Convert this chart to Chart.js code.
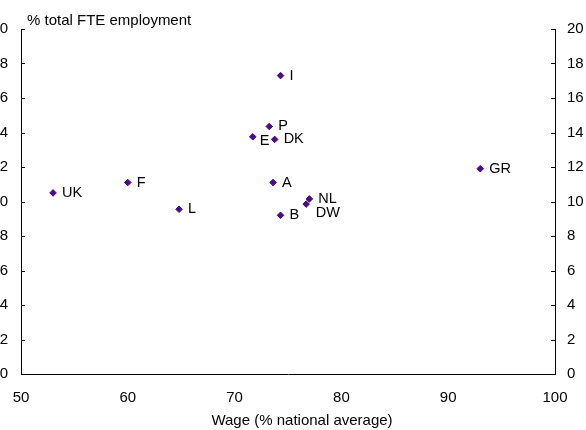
<!DOCTYPE html>
<html>
<head>
<meta charset="utf-8">
<script src="https://cdn.jsdelivr.net/npm/chart.js@4.4.1/dist/chart.umd.min.js"></script>
<style>
  html, body { margin: 0; padding: 0; background: #fff; }
  #wrap { position: relative; width: 586px; height: 430px; overflow: hidden; }
  #box { position: absolute; left: -14px; top: 0; width: 600px; height: 430px; }
</style>
</head>
<body>
<div id="wrap"><div id="box"><canvas id="c" width="600" height="430"></canvas></div></div>
<script>
// Country codes, relative wage and share of full-time-equivalent employment
const countries = ['UK', 'F', 'L', 'E', 'P', 'DK', 'A', 'I', 'B', 'DW', 'NL', 'GR'];
const wages     = [53.0, 60.0, 64.8, 71.7, 73.25, 73.75, 73.6, 74.3, 74.3, 76.7, 77.0, 93.0];
const shares    = [10.5, 11.1, 9.55, 13.75, 14.35, 13.6, 11.1, 17.3, 9.2, 9.85, 10.15, 11.9];

const xTicks = [50, 60, 70, 80, 90, 100];
const yTicks = [0, 2, 4, 6, 8, 10, 12, 14, 16, 18, 20];

const yTitle = '% total FTE employment';
const xTitle = 'Wage (% national average)';

const FONT = '"Liberation Sans", Arial, sans-serif';
const INK = '#000';
const MARK = '#4b0a86';

// Per-label nudges for crowded points (default is just right of the marker)
const labelNudge = { E: [7, 4.5], DW: [9.5, 8.5] };

const points = wages.map((w, i) => ({ x: w, y: shares[i] }));

const decorations = {
  id: 'decorations',
  afterDatasetsDraw(chart) {
    const ctx = chart.ctx;
    const area = chart.chartArea;
    const yl = chart.scales.y;
    ctx.save();
    // inward tick marks on both vertical axes
    ctx.strokeStyle = INK;
    ctx.lineWidth = 1;
    yTicks.forEach(v => {
      const py = Math.round(yl.getPixelForValue(v)) + 0.5;
      ctx.beginPath();
      ctx.moveTo(area.left, py); ctx.lineTo(area.left + 4, py);
      ctx.moveTo(area.right, py); ctx.lineTo(area.right - 4, py);
      ctx.stroke();
    });
    // point labels
    ctx.fillStyle = INK;
    ctx.font = '14.5px ' + FONT;
    ctx.textBaseline = 'middle';
    ctx.textAlign = 'left';
    const meta = chart.getDatasetMeta(0);
    meta.data.forEach((el, i) => {
      const name = countries[i];
      const n = labelNudge[name] || [9, 0];
      ctx.fillText(name, el.x + n[0], el.y + n[1]);
    });
    // axis titles
    ctx.font = '15px ' + FONT;
    ctx.textBaseline = 'alphabetic';
    ctx.fillText(yTitle, area.left + 6, 24.5);
    ctx.textAlign = 'center';
    ctx.fillText(xTitle, (area.left + area.right) / 2 + 14, 424.5);
    ctx.restore();
  }
};

new Chart(document.getElementById('c'), {
  type: 'scatter',
  data: {
    datasets: [{
      data: points,
      pointStyle: 'rectRot',
      pointRadius: 3.3,
      pointHoverRadius: 3.3,
      backgroundColor: MARK,
      borderColor: MARK,
      borderWidth: 1,
      yAxisID: 'y'
    }]
  },
  options: {
    responsive: false,
    animation: false,
    layout: { padding: { top: 29, left: 0, right: 0, bottom: 0 } },
    plugins: { legend: { display: false }, tooltip: { enabled: false } },
    scales: {
      x: {
        type: 'linear', position: 'bottom', min: 50, max: 100,
        afterBuildTicks: s => { s.ticks = xTicks.map(v => ({ value: v })); },
        afterFit: s => { s.height = 56; },
        grid: { display: false, drawTicks: false },
        border: { display: true, color: INK, width: 1 },
        ticks: { color: INK, font: { family: FONT, size: 15 }, padding: 15, maxRotation: 0 }
      },
      y: {
        type: 'linear', position: 'left', min: 0, max: 20,
        afterBuildTicks: s => { s.ticks = yTicks.map(v => ({ value: v })); },
        afterFit: s => { s.width = 35; },
        grid: { display: false, drawTicks: false },
        border: { display: true, color: INK, width: 1 },
        ticks: { color: INK, font: { family: FONT, size: 15 }, padding: 13 }
      },
      y2: {
        type: 'linear', position: 'right', min: 0, max: 20, display: true,
        afterBuildTicks: s => { s.ticks = yTicks.map(v => ({ value: v })); },
        afterFit: s => { s.width = 31; },
        grid: { display: false, drawTicks: false },
        border: { display: true, color: INK, width: 1 },
        ticks: { color: INK, font: { family: FONT, size: 15 }, padding: 12 }
      }
    }
  },
  plugins: [decorations]
});
</script>
</body>
</html>
